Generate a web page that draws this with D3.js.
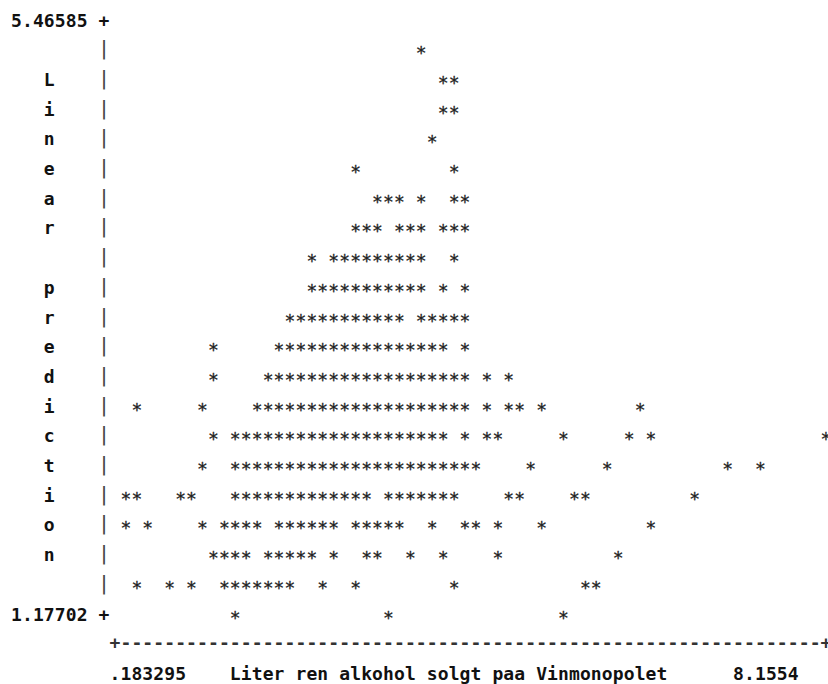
<!DOCTYPE html>
<html>
<head>
<meta charset="utf-8">
<script src="https://cdn.jsdelivr.net/npm/d3@7"></script>
<style>
  body { margin: 0; background: #fff; }
  text { font-family: "DejaVu Sans Mono", monospace; font-size: 18px; }
</style>
</head>
<body>
<div id="frame"></div>
<script>
// text plot: 75 columns x 23 lines
const frameWidth = 828;
const frameHeight = 684;
const charW = 10.94;
const rowH = 29.7;

const yTopLabel = "5.46585";
const yBottomLabel = "1.17702";
const xMinLabel = ".183295";
const xMaxLabel = "8.1554";
const xTitle = "Liter ren alkohol solgt paa Vinmonopolet";
const yTitle = "Linear prediction";

// columns holding a '*' on each plot line (line 0 = top value, line 20 = bottom value)
const plotRows = [
  [],
  [37],
  [39, 40],
  [39, 40],
  [38],
  [31, 40],
  [33, 34, 35, 37, 40, 41],
  [31, 32, 33, 35, 36, 37, 39, 40, 41],
  [27, 29, 30, 31, 32, 33, 34, 35, 36, 37, 40],
  [27, 28, 29, 30, 31, 32, 33, 34, 35, 36, 37, 39, 41],
  [25, 26, 27, 28, 29, 30, 31, 32, 33, 34, 35, 37, 38, 39, 40, 41],
  [18, 24, 25, 26, 27, 28, 29, 30, 31, 32, 33, 34, 35, 36, 37, 38, 39, 41],
  [18, 23, 24, 25, 26, 27, 28, 29, 30, 31, 32, 33, 34, 35, 36, 37, 38, 39, 40, 41, 43, 45],
  [11, 17, 22, 23, 24, 25, 26, 27, 28, 29, 30, 31, 32, 33, 34, 35, 36, 37, 38, 39, 40, 41, 43, 45, 46, 48, 57],
  [18, 20, 21, 22, 23, 24, 25, 26, 27, 28, 29, 30, 31, 32, 33, 34, 35, 36, 37, 38, 39, 41, 43, 44, 50, 56, 58, 74],
  [17, 20, 21, 22, 23, 24, 25, 26, 27, 28, 29, 30, 31, 32, 33, 34, 35, 36, 37, 38, 39, 40, 41, 42, 47, 54, 65, 68],
  [10, 11, 15, 16, 20, 21, 22, 23, 24, 25, 26, 27, 28, 29, 30, 31, 32, 34, 35, 36, 37, 38, 39, 40, 45, 46, 51, 52, 62],
  [10, 12, 17, 19, 20, 21, 22, 24, 25, 26, 27, 28, 29, 31, 32, 33, 34, 35, 38, 41, 42, 44, 48, 58],
  [18, 19, 20, 21, 23, 24, 25, 26, 27, 29, 32, 33, 36, 39, 44, 55],
  [11, 14, 16, 19, 20, 21, 22, 23, 24, 25, 28, 31, 40, 52, 53],
  [20, 34, 50]
];

let svg = d3.select("#frame")
        .append("svg")
        .attr("width", frameWidth)
        .attr("height", frameHeight);

// column -> x of char centre, line -> y of char centre
let xCol = d3.scaleLinear()
        .domain([0, 75])
        .range([11, 11 + 75 * charW]);

let yRow = d3.scaleLinear()
        .domain([0, 20])
        .range([20, 20 + 20 * rowH]);

function putText(str, c0, r, opts) {
    for (let i = 0; i < str.length; i++) {
        if (str[i] === " ") continue;
        svg.append("text")
            .attr("x", xCol(c0 + i + 0.5))
            .attr("y", yRow(r) + opts.dy)
            .attr("text-anchor", "middle")
            .style("font-weight", opts.bold ? "bold" : "normal")
            .style("font-size", (opts.size || 18) + "px")
            .style("fill", opts.color)
            .text(str[i]);
    }
}

// y labels
putText(yTopLabel + " +", 0, 0, {dy: 6.5, bold: true, color: "#111"});
putText(yBottomLabel + " +", 0, 20, {dy: 6.5, bold: true, color: "#111"});

// left rule
for (let r = 1; r < 20; r++) {
    putText("|", 8, r, {dy: 5.5, bold: false, color: "#444", size: 20});
}

// vertical title, one letter per line
yTitle.split("").forEach((ch, i) => {
    putText(ch, 3, i + 2, {dy: 6.5, bold: true, color: "#111"});
});

// points
plotRows.forEach((cols, r) => {
    svg.selectAll(null)
        .data(cols)
        .enter()
        .append("text")
        .attr("x", d => xCol(d + 0.5))
        .attr("y", yRow(r) + 9.5)
        .attr("text-anchor", "middle")
        .style("fill", "#222")
        .style("stroke", "#222")
        .style("stroke-width", 0.3)
        .text("*");
});

// x axis line
putText("+" + "-".repeat(64) + "+", 9, 21, {dy: 5.6, bold: true, color: "#333"});

// x labels
putText(xMinLabel, 9, 22, {dy: 6.5, bold: true, color: "#111"});
putText(xTitle, 20, 22, {dy: 6.5, bold: true, color: "#111"});
putText(xMaxLabel, 66, 22, {dy: 6.5, bold: true, color: "#111"});
</script>
</body>
</html>
